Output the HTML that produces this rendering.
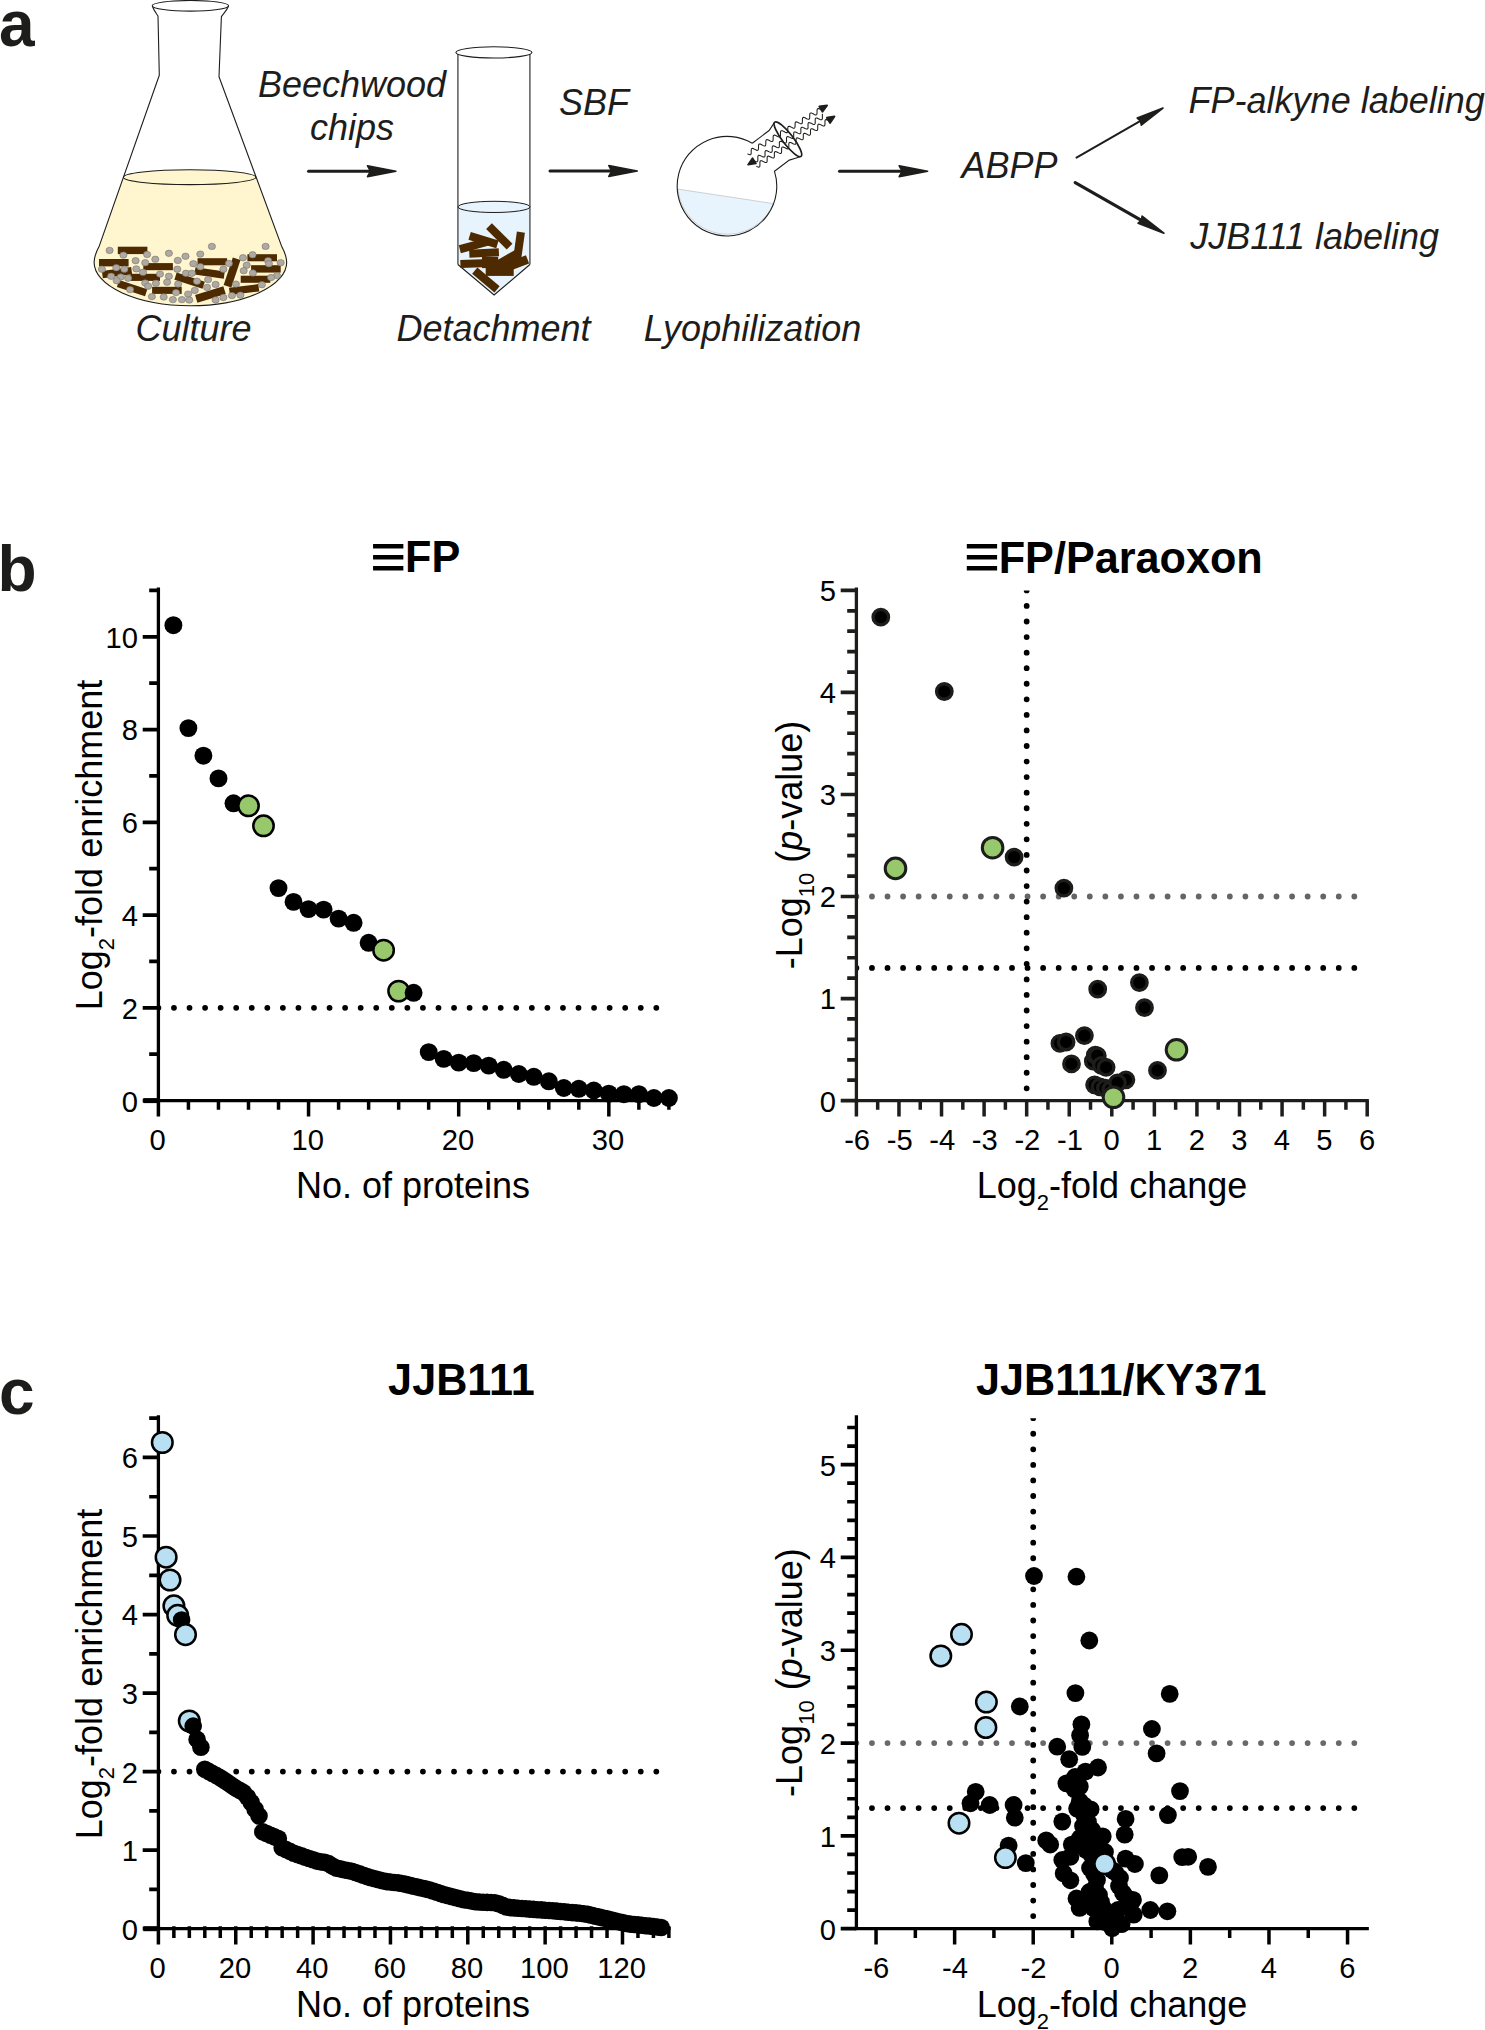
<!DOCTYPE html>
<html lang="en"><head><meta charset="utf-8"><title>Figure</title>
<style>html,body{margin:0;padding:0;background:#fff;}body{width:1485px;height:2030px;}svg{display:block;}text{white-space:pre;}</style>
</head><body>
<svg width="1485" height="2030" viewBox="0 0 1485 2030">
<rect width="1485" height="2030" fill="#fff"/>
<text x="-1.0" y="45.5" font-family='"Liberation Sans", sans-serif' font-weight="bold" font-size="64" fill="#1d1d1b">a</text>
<text x="-2.6" y="591.0" font-family='"Liberation Sans", sans-serif' font-weight="bold" font-size="64" fill="#1d1d1b">b</text>
<text x="-1.0" y="1414.0" font-family='"Liberation Sans", sans-serif' font-weight="bold" font-size="64" fill="#1d1d1b">c</text>
<g id="panel-a">
<g id="flask" stroke="#1d1d1b" stroke-width="1.1" fill="none" stroke-linejoin="round">
<path d="M123.4,177.2 L99.3,245.9 Q94.3,255 94.1,262.2 A96.3,43.5 0 0 0 286.7,262.2 Q286.5,255 281.5,245.9 L255.8,177.2 Z" fill="#fff6d0" stroke="none"/>
<ellipse cx="189.6" cy="177.2" rx="66.2" ry="7.4" fill="#fff6d0"/>
<path d="M152.3,6 C153.5,10 156,13 158,16 L159.3,75.3 L99.3,245.9 Q94.3,255 94.1,262.2 A96.3,43.5 0 0 0 286.7,262.2 Q286.5,255 281.5,245.9 L219,76.7 L221.4,16.6 C224,13 227,10 228.6,6"/>
<ellipse cx="190.4" cy="5.8" rx="38.2" ry="5.3" fill="#fff"/>
</g>
<g id="chips-a" fill="#4d2a00">
<rect x="117.8" y="246.7" width="29.6" height="7.4" transform="rotate(0 132.6 250.4)"/>
<rect x="99.0" y="259.0" width="29.6" height="7.4" transform="rotate(0 113.8 262.7)"/>
<rect x="102.2" y="268.9" width="29.6" height="7.4" transform="rotate(-8 117.0 272.6)"/>
<rect x="143.3" y="263.1" width="29.6" height="7.1" transform="rotate(0 158.1 266.7)"/>
<rect x="130.4" y="273.8" width="29.6" height="7.1" transform="rotate(0 145.2 277.3)"/>
<rect x="117.3" y="284.4" width="29.6" height="7.4" transform="rotate(18 132.1 288.1)"/>
<rect x="152.1" y="286.8" width="29.6" height="7.1" transform="rotate(0 167.0 290.4)"/>
<rect x="174.8" y="277.0" width="29.6" height="7.4" transform="rotate(18 189.6 280.7)"/>
<rect x="197.5" y="258.2" width="29.6" height="7.1" transform="rotate(0 212.3 261.8)"/>
<rect x="194.8" y="269.3" width="29.6" height="7.4" transform="rotate(8 209.6 273.0)"/>
<rect x="217.7" y="268.5" width="28.9" height="8.1" transform="rotate(-71.5 232.1 272.6)"/>
<rect x="195.6" y="290.4" width="29.6" height="8.1" transform="rotate(-17 210.4 294.5)"/>
<rect x="229.3" y="285.9" width="29.6" height="7.4" transform="rotate(-7 244.1 289.6)"/>
<rect x="240.7" y="275.7" width="29.6" height="7.1" transform="rotate(0 255.6 279.3)"/>
<rect x="251.1" y="265.2" width="29.6" height="7.4" transform="rotate(0 265.9 268.9)"/>
<rect x="247.4" y="254.2" width="29.6" height="7.1" transform="rotate(0 262.2 257.8)"/>
</g>
<g id="cells-a" fill="#aeaaa3" stroke="#77746d" stroke-width="0.6">
<ellipse cx="109.6" cy="250.4" rx="3.6" ry="3.2"/>
<ellipse cx="123.4" cy="255.1" rx="3.6" ry="3.2"/>
<ellipse cx="147.1" cy="254.5" rx="3.6" ry="3.2"/>
<ellipse cx="168.9" cy="253.3" rx="3.6" ry="3.2"/>
<ellipse cx="185.5" cy="256.3" rx="3.6" ry="3.2"/>
<ellipse cx="200.3" cy="254.1" rx="3.6" ry="3.2"/>
<ellipse cx="211.9" cy="246.4" rx="3.6" ry="3.2"/>
<ellipse cx="265.6" cy="246.4" rx="3.6" ry="3.2"/>
<ellipse cx="252.6" cy="254.8" rx="3.6" ry="3.2"/>
<ellipse cx="243.0" cy="257.8" rx="3.6" ry="3.2"/>
<ellipse cx="268.1" cy="260.7" rx="3.6" ry="3.2"/>
<ellipse cx="280.7" cy="262.7" rx="3.6" ry="3.2"/>
<ellipse cx="268.9" cy="263.7" rx="3.6" ry="3.2"/>
<ellipse cx="135.6" cy="260.7" rx="3.6" ry="3.2"/>
<ellipse cx="145.2" cy="262.7" rx="3.6" ry="3.2"/>
<ellipse cx="155.3" cy="259.3" rx="3.6" ry="3.2"/>
<ellipse cx="177.8" cy="260.4" rx="3.6" ry="3.2"/>
<ellipse cx="193.3" cy="263.7" rx="3.6" ry="3.2"/>
<ellipse cx="200.3" cy="266.7" rx="3.6" ry="3.2"/>
<ellipse cx="228.9" cy="263.4" rx="3.6" ry="3.2"/>
<ellipse cx="246.7" cy="265.2" rx="3.6" ry="3.2"/>
<ellipse cx="101.9" cy="269.2" rx="3.6" ry="3.2"/>
<ellipse cx="116.3" cy="267.7" rx="3.6" ry="3.2"/>
<ellipse cx="124.4" cy="269.2" rx="3.6" ry="3.2"/>
<ellipse cx="136.3" cy="268.9" rx="3.6" ry="3.2"/>
<ellipse cx="143.0" cy="272.3" rx="3.6" ry="3.2"/>
<ellipse cx="160.0" cy="274.1" rx="3.6" ry="3.2"/>
<ellipse cx="168.9" cy="276.3" rx="3.6" ry="3.2"/>
<ellipse cx="177.3" cy="269.2" rx="3.6" ry="3.2"/>
<ellipse cx="185.9" cy="273.3" rx="3.6" ry="3.2"/>
<ellipse cx="191.9" cy="273.3" rx="3.6" ry="3.2"/>
<ellipse cx="223.4" cy="269.2" rx="3.6" ry="3.2"/>
<ellipse cx="243.7" cy="270.7" rx="3.6" ry="3.2"/>
<ellipse cx="252.9" cy="273.0" rx="3.6" ry="3.2"/>
<ellipse cx="277.0" cy="275.6" rx="3.6" ry="3.2"/>
<ellipse cx="271.1" cy="277.5" rx="3.6" ry="3.2"/>
<ellipse cx="111.1" cy="276.3" rx="3.6" ry="3.2"/>
<ellipse cx="120.7" cy="277.0" rx="3.6" ry="3.2"/>
<ellipse cx="128.1" cy="278.2" rx="3.6" ry="3.2"/>
<ellipse cx="116.7" cy="280.7" rx="3.6" ry="3.2"/>
<ellipse cx="145.2" cy="283.0" rx="3.6" ry="3.2"/>
<ellipse cx="155.9" cy="283.3" rx="3.6" ry="3.2"/>
<ellipse cx="167.1" cy="282.2" rx="3.6" ry="3.2"/>
<ellipse cx="178.1" cy="284.1" rx="3.6" ry="3.2"/>
<ellipse cx="148.1" cy="286.2" rx="3.6" ry="3.2"/>
<ellipse cx="197.0" cy="281.2" rx="3.6" ry="3.2"/>
<ellipse cx="208.1" cy="279.6" rx="3.6" ry="3.2"/>
<ellipse cx="215.6" cy="284.4" rx="3.6" ry="3.2"/>
<ellipse cx="207.1" cy="287.4" rx="3.6" ry="3.2"/>
<ellipse cx="235.9" cy="284.1" rx="3.6" ry="3.2"/>
<ellipse cx="261.9" cy="284.7" rx="3.6" ry="3.2"/>
<ellipse cx="130.1" cy="289.6" rx="3.6" ry="3.2"/>
<ellipse cx="194.8" cy="290.4" rx="3.6" ry="3.2"/>
<ellipse cx="176.0" cy="292.6" rx="3.6" ry="3.2"/>
<ellipse cx="188.1" cy="294.1" rx="3.6" ry="3.2"/>
<ellipse cx="151.9" cy="296.6" rx="3.6" ry="3.2"/>
<ellipse cx="163.7" cy="297.0" rx="3.6" ry="3.2"/>
<ellipse cx="172.9" cy="299.6" rx="3.6" ry="3.2"/>
<ellipse cx="181.9" cy="299.6" rx="3.6" ry="3.2"/>
<ellipse cx="189.3" cy="300.0" rx="3.6" ry="3.2"/>
<ellipse cx="215.6" cy="300.0" rx="3.6" ry="3.2"/>
<ellipse cx="223.4" cy="297.5" rx="3.6" ry="3.2"/>
<ellipse cx="231.9" cy="295.6" rx="3.6" ry="3.2"/>
<ellipse cx="240.4" cy="295.1" rx="3.6" ry="3.2"/>
</g>
<g id="tube" fill="none">
<path d="M458.1,206.9 L458.1,264.5 L494.1,295 L529.9,264.5 L529.9,206.9 Z" fill="#e7f4fd"/>
<path d="M457.9,52.4 V264.5 M529.9,52.4 V264.5" stroke="#666" stroke-width="1.6"/>
<path d="M457.9,264.5 L494.1,295 L529.9,264.5" stroke="#1d1d1b" stroke-width="1.1"/>
<ellipse cx="493.9" cy="52.4" rx="38.0" ry="5.6" fill="#fff" stroke="#1d1d1b" stroke-width="1.1"/>
<ellipse cx="494" cy="206.9" rx="36" ry="5.6" fill="#e7f4fd" stroke="#1d1d1b" stroke-width="1"/>
<g fill="#4d2a00">
<rect x="484.7" y="232.2" width="29.1" height="8.1" transform="rotate(45 499.2 236.3)"/>
<rect x="469.0" y="236.0" width="29.1" height="8.1" transform="rotate(17 483.6 240.0)"/>
<rect x="459.3" y="241.4" width="29.1" height="8.1" transform="rotate(-15 473.9 245.4)"/>
<rect x="469.3" y="248.9" width="29.6" height="8.1" transform="rotate(-3 484.1 253.0)"/>
<rect x="460.4" y="259.5" width="29.1" height="8.1" transform="rotate(-2 475.0 263.5)"/>
<rect x="504.9" y="241.9" width="28.0" height="8.1" transform="rotate(98 518.9 246.0)"/>
<rect x="497.3" y="260.6" width="31.3" height="8.8" transform="rotate(-21 512.9 265.0)"/>
<rect x="493.3" y="255.5" width="26.9" height="9.7" transform="rotate(-30 506.7 260.3)"/>
<rect x="485.7" y="267.8" width="28.0" height="8.1" transform="rotate(0 499.7 271.8)"/>
<rect x="471.4" y="275.9" width="29.1" height="8.1" transform="rotate(40 485.9 279.9)"/>
<rect x="482.0" y="256.8" width="16.2" height="11.3" transform="rotate(0 490.0 262.5)"/>
</g></g>
<g id="rflask" fill="none" stroke="#1d1d1b" stroke-width="1.1">
<path d="M677.9,189.1 L773.5,203.6 A49.8,49.8 0 0 1 677.9,189.1 Z" fill="#e7f4fd" stroke="#b5b5b5" stroke-width="0.6"/>
<path d="M774.5,122.4 L769.1,130.5 Q760.5,136.9 752.3,143.3 M752.3,143.3 A49.8,49.8 0 1 0 774.5,171.3 L789.3,160.1 Q794.7,158.6 800.1,156.8"/>
<ellipse cx="787.9" cy="139.3" rx="21.6" ry="5.3" transform="rotate(52.5 787.9 139.3)" stroke-width="1.7"/>
<g stroke-width="1.05">
<path d="M747.54,153.80 L748.40,154.25 L749.20,154.61 L749.89,154.78 L750.44,154.72 L750.84,154.40 L751.07,153.82 L751.18,153.03 L751.20,152.10 L751.20,151.12 L751.22,150.18 L751.32,149.39 L751.55,148.80 L751.93,148.46 L752.48,148.39 L753.17,148.56 L753.96,148.91 L754.82,149.36 L755.68,149.81 L756.49,150.17 L757.18,150.35 L757.74,150.30 L758.14,149.99 L758.38,149.42 L758.49,148.64 L758.52,147.71 L758.51,146.73 L758.53,145.79 L758.63,144.99 L758.85,144.39 L759.23,144.04 L759.77,143.96 L760.45,144.12 L761.25,144.47 L762.10,144.91 L762.96,145.36 L763.77,145.73 L764.47,145.92 L765.04,145.88 L765.44,145.58 L765.69,145.02 L765.80,144.24 L765.83,143.32 L765.82,142.34 L765.84,141.40 L765.94,140.58 L766.15,139.98 L766.53,139.62 L767.06,139.53 L767.74,139.69 L768.53,140.02 L769.38,140.47 L770.24,140.92 L771.05,141.29 L771.76,141.49 L772.33,141.46 L772.74,141.17 L772.99,140.61 L773.11,139.85 L773.14,138.93 L773.14,137.95 L773.15,137.00 L773.24,136.18 L773.46,135.57 L773.82,135.20 L774.35,135.10 L775.02,135.25 L775.81,135.58 L776.66,136.02 L777.53,136.47 L778.34,136.85 L779.05,137.06 L779.63,137.04 L780.04,136.75 L780.30,136.21 L780.42,135.45 L780.46,134.54 L780.45,133.56 L780.46,132.61 L780.55,131.78 L780.76,131.16 L781.12,130.79 L781.64,130.67 L782.31,130.81 L783.09,131.13 L783.94,131.57 L784.81,132.03 L785.62,132.41 L786.34,132.62 L786.92,132.61 L787.34,132.34 L787.61,131.81 L787.74,131.05 L787.77,130.14 L787.77,129.17 L787.78,128.21 L787.86,127.38 L788.06,126.75 L788.42,126.37 L788.93,126.25 L789.59,126.37 L790.37,126.69 L791.22,127.13 L792.09,127.58 L792.91,127.97 L793.63,128.19 L794.21,128.19 L794.64,127.93 L794.91,127.41 L795.05,126.66 L795.08,125.75 L795.08,124.77 L795.09,123.82 L795.17,122.98 L795.37,122.34 L795.71,121.95 L796.22,121.82 L796.88,121.93 L797.65,122.25 L798.50,122.68 L799.37,123.14 L800.19,123.53 L800.92,123.76 L801.51,123.77 L801.94,123.51 L802.22,123.00 L802.36,122.26 L802.40,121.36 L802.39,120.38 L802.40,119.43 L802.48,118.58 L802.67,117.93 L803.01,117.53 L803.51,117.39 L804.16,117.50 L804.94,117.80 L805.78,118.23 L806.65,118.69 L807.47,119.09 L808.20,119.32 L808.80,119.34 L809.24,119.10 L809.52,118.60 L809.67,117.87 L809.71,116.97 L809.71,115.99 L809.71,115.03 L809.79,114.19 L809.97,113.53 L810.31,113.11 L810.80,112.96 L811.45,113.06 L812.22,113.36 L813.06,113.79 L813.93,114.25 L814.76,114.64 L815.49,114.89 L816.09,114.92 L816.54,114.69 L816.83,114.19 L816.98,113.47 L817.02,112.58 L817.02,111.60 L817.03,110.64 L817.09,109.79 L817.28,109.12 L817.61,108.69 L818.10,108.53 L818.74,108.62 L819.50,108.92 L820.34,109.34 L821.21,109.80"/>
<path d="M754.28,160.81 L755.15,161.23 L755.96,161.56 L756.66,161.71 L757.21,161.63 L757.59,161.30 L757.80,160.71 L757.89,159.92 L757.88,158.99 L757.84,158.01 L757.83,157.08 L757.91,156.28 L758.12,155.68 L758.49,155.33 L759.03,155.24 L759.72,155.38 L760.53,155.71 L761.40,156.12 L762.27,156.55 L763.09,156.88 L763.79,157.05 L764.35,156.98 L764.74,156.66 L764.96,156.09 L765.05,155.30 L765.05,154.38 L765.01,153.40 L765.00,152.46 L765.07,151.65 L765.27,151.04 L765.64,150.68 L766.17,150.58 L766.85,150.71 L767.65,151.02 L768.52,151.44 L769.40,151.87 L770.22,152.21 L770.93,152.38 L771.49,152.33 L771.89,152.02 L772.12,151.46 L772.22,150.68 L772.22,149.76 L772.18,148.78 L772.16,147.84 L772.23,147.02 L772.43,146.40 L772.78,146.03 L773.30,145.91 L773.98,146.04 L774.78,146.34 L775.65,146.76 L776.52,147.18 L777.35,147.53 L778.06,147.72 L778.64,147.67 L779.04,147.38 L779.28,146.83 L779.38,146.06 L779.39,145.15 L779.35,144.17 L779.33,143.22 L779.39,142.40 L779.58,141.77 L779.93,141.38 L780.44,141.25 L781.11,141.36 L781.90,141.66 L782.77,142.07 L783.65,142.50 L784.47,142.86 L785.20,143.05 L785.78,143.02 L786.19,142.74 L786.44,142.20 L786.55,141.44 L786.55,140.53 L786.52,139.56 L786.50,138.61 L786.55,137.77 L786.73,137.13 L787.07,136.73 L787.58,136.59 L788.24,136.69 L789.03,136.98 L789.89,137.39 L790.77,137.82 L791.60,138.18 L792.33,138.38 L792.92,138.37 L793.34,138.10 L793.60,137.57 L793.71,136.82 L793.72,135.92 L793.69,134.94 L793.66,133.99 L793.71,133.15 L793.89,132.50 L794.22,132.08 L794.72,131.93 L795.37,132.02 L796.16,132.30 L797.02,132.71 L797.89,133.14 L798.73,133.50 L799.47,133.71 L800.06,133.71 L800.49,133.45 L800.76,132.94 L800.88,132.20 L800.89,131.31 L800.85,130.33 L800.83,129.37 L800.88,128.52 L801.04,127.86 L801.36,127.44 L801.85,127.27 L802.50,127.35 L803.28,127.62 L804.14,128.02 L805.02,128.45 L805.86,128.82 L806.60,129.05 L807.20,129.05 L807.64,128.81 L807.91,128.31 L808.04,127.58 L808.06,126.69 L808.02,125.72 L808.00,124.76 L808.04,123.90 L808.20,123.23 L808.51,122.79 L808.99,122.61 L809.64,122.68 L810.41,122.94 L811.26,123.34 L812.14,123.77 L812.98,124.15 L813.73,124.38 L814.34,124.40 L814.79,124.17 L815.07,123.68 L815.20,122.96 L815.23,122.08 L815.19,121.10 L815.16,120.14 L815.20,119.28 L815.35,118.59 L815.66,118.14 L816.13,117.95 L816.77,118.01 L817.53,118.26 L818.39,118.66 L819.27,119.09 L820.11,119.47 L820.87,119.71 L821.48,119.74 L821.94,119.52 L822.23,119.05 L822.37,118.34 L822.39,117.46 L822.36,116.49 L822.33,115.52 L822.36,114.65 L822.51,113.96"/>
<path d="M756.30,166.20 L757.16,166.63 L757.97,166.97 L758.67,167.13 L759.21,167.06 L759.60,166.73 L759.82,166.15 L759.92,165.36 L759.92,164.43 L759.90,163.45 L759.90,162.51 L759.99,161.71 L760.21,161.12 L760.58,160.78 L761.12,160.69 L761.81,160.84 L762.61,161.17 L763.48,161.60 L764.35,162.04 L765.16,162.39 L765.86,162.56 L766.42,162.50 L766.81,162.19 L767.04,161.62 L767.14,160.84 L767.15,159.91 L767.13,158.93 L767.13,157.99 L767.21,157.19 L767.42,156.58 L767.79,156.22 L768.32,156.12 L769.00,156.26 L769.80,156.59 L770.66,157.01 L771.53,157.45 L772.34,157.80 L773.05,157.99 L773.62,157.95 L774.02,157.64 L774.26,157.09 L774.37,156.32 L774.38,155.40 L774.36,154.42 L774.35,153.48 L774.43,152.66 L774.63,152.04 L774.99,151.67 L775.51,151.56 L776.19,151.68 L776.98,152.00 L777.84,152.42 L778.71,152.86 L779.53,153.22 L780.25,153.42 L780.82,153.39 L781.23,153.10 L781.48,152.56 L781.60,151.80 L781.61,150.88 L781.59,149.91 L781.58,148.96 L781.65,148.13 L781.85,147.50 L782.19,147.11 L782.71,146.99 L783.37,147.11 L784.16,147.41 L785.02,147.83 L785.89,148.27 L786.72,148.64 L787.44,148.85 L788.02,148.83 L788.44,148.56 L788.70,148.03 L788.82,147.28 L788.84,146.37 L788.82,145.39 L788.81,144.44 L788.87,143.60 L789.06,142.96 L789.40,142.56 L789.90,142.42 L790.56,142.53 L791.35,142.83 L792.20,143.24 L793.07,143.68 L793.90,144.06 L794.63,144.27 L795.22,144.27 L795.65,144.01 L795.92,143.50 L796.05,142.76 L796.07,141.86 L796.05,140.88 L796.03,139.92 L796.09,139.08 L796.27,138.42 L796.61,138.01 L797.10,137.86 L797.75,137.95 L798.53,138.24 L799.38,138.65 L800.26,139.09 L801.09,139.47 L801.82,139.70 L802.42,139.71 L802.86,139.47 L803.14,138.96 L803.27,138.23 L803.30,137.34 L803.28,136.37 L803.26,135.41 L803.32,134.55 L803.49,133.89 L803.81,133.46 L804.30,133.29 L804.94,133.37 L805.71,133.65 L806.56,134.06 L807.44,134.50 L808.27,134.89 L809.02,135.13 L809.62,135.15 L810.07,134.92 L810.35,134.43 L810.49,133.71 L810.53,132.82 L810.51,131.85 L810.49,130.89 L810.54,130.03 L810.70,129.35 L811.02,128.91 L811.50,128.73 L812.13,128.79 L812.90,129.07 L813.74,129.47 L814.62,129.91 L815.46,130.30 L816.21,130.55 L816.82,130.59 L817.28,130.37 L817.57,129.90 L817.72,129.19 L817.76,128.31 L817.74,127.34 L817.72,126.37 L817.76,125.50 L817.92,124.81 L818.23,124.36 L818.69,124.16 L819.32,124.22 L820.08,124.48 L820.93,124.88 L821.80,125.32 L822.64,125.72 L823.40,125.98 L824.02,126.03 L824.49,125.82 L824.79,125.36 L824.94,124.66 L824.98,123.79 L824.97,122.83 L824.95,121.86 L824.99,120.98 L825.14,120.28 L825.43,119.81 L825.89,119.60 L826.51,119.64 L827.27,119.90 L828.11,120.29"/>
</g>
<path d="M827.1,105.4 L822.5,111.8 L819.3,106.5 Z" fill="#1d1d1b" stroke="#1d1d1b" stroke-width="1.8" stroke-linejoin="round"/>
<path d="M834.5,116.5 L830.1,123.0 L826.8,117.7 Z" fill="#1d1d1b" stroke="#1d1d1b" stroke-width="1.8" stroke-linejoin="round"/>
<path d="M748.1,164.7 L752.5,158.2 L755.9,163.4 Z" fill="#1d1d1b" stroke="#1d1d1b" stroke-width="1.8" stroke-linejoin="round"/>
</g>
<g id="arrows">
<path d="M308.5,171.2 L370.5,171.2" stroke="#1d1d1b" stroke-width="3.0" stroke-linecap="round" fill="none"/>
<path d="M395.9,171.2 L367.5,176.6 L370.5,171.2 L367.5,165.8 Z" fill="#1d1d1b" stroke="#1d1d1b" stroke-width="1.6" stroke-linejoin="round"/>
<path d="M550.0,171.0 L611.8,171.0" stroke="#1d1d1b" stroke-width="3.0" stroke-linecap="round" fill="none"/>
<path d="M637.2,171.0 L608.8,176.4 L611.8,171.0 L608.8,165.6 Z" fill="#1d1d1b" stroke="#1d1d1b" stroke-width="1.6" stroke-linejoin="round"/>
<path d="M839.5,171.2 L902.2,171.2" stroke="#1d1d1b" stroke-width="3.0" stroke-linecap="round" fill="none"/>
<path d="M927.6,171.2 L899.2,176.6 L902.2,171.2 L899.2,165.8 Z" fill="#1d1d1b" stroke="#1d1d1b" stroke-width="1.6" stroke-linejoin="round"/>
<path d="M1076.5,157.6 L1140.5,120.9" stroke="#1d1d1b" stroke-width="2.0" stroke-linecap="round" fill="none"/>
<path d="M1163.0,108.0 L1141.3,125.2 L1140.5,120.9 L1137.2,118.1 Z" fill="#1d1d1b" stroke="#1d1d1b" stroke-width="1.6" stroke-linejoin="round"/>
<path d="M1075.2,182.6 L1141.4,220.4" stroke="#1d1d1b" stroke-width="3.2" stroke-linecap="round" fill="none"/>
<path d="M1163.9,233.2 L1138.1,223.2 L1141.4,220.4 L1142.1,216.1 Z" fill="#1d1d1b" stroke="#1d1d1b" stroke-width="1.6" stroke-linejoin="round"/>
</g>
<g id="text-a" font-family='"Liberation Sans", sans-serif' font-style="italic" font-size="36" fill="#1d1d1b">
<text x="352.0" y="97.4" text-anchor="middle">Beechwood</text>
<text x="352.0" y="139.6" text-anchor="middle">chips</text>
<text x="594.0" y="114.8" text-anchor="middle">SBF</text>
<text x="193.5" y="340.5" text-anchor="middle">Culture</text>
<text x="493.5" y="340.5" text-anchor="middle">Detachment</text>
<text x="752.5" y="340.5" text-anchor="middle">Lyophilization</text>
<text x="1009.5" y="177.5" text-anchor="middle">ABPP</text>
<text x="1188.6" y="113.0" text-anchor="start">FP-alkyne labeling</text>
<text x="1190.3" y="248.7" text-anchor="start">JJB111 labeling</text>
</g>
</g>
<g id="chart-b1">
<defs><clipPath id="cb1"><rect x="158.40" y="590.40" width="530.50" height="530.20"/></clipPath></defs>
<g clip-path="url(#cb1)"><path d="M158.40,1007.84 H656.42" stroke="#000" stroke-width="5.8" stroke-linecap="round" stroke-dasharray="0 15.56" fill="none"/></g>
<g stroke="#000" stroke-width="3.30" fill="none">
<path d="M158.40,587.50 V1102.25 M156.75,1100.60 H670.55"/>
<path d="M158.40,1100.60 v15.80 M308.55,1100.60 v15.80 M458.69,1100.60 v15.80 M608.84,1100.60 v15.80 M188.43,1100.60 v9.20 M218.46,1100.60 v9.20 M248.49,1100.60 v9.20 M278.52,1100.60 v9.20 M338.58,1100.60 v9.20 M368.61,1100.60 v9.20 M398.64,1100.60 v9.20 M428.66,1100.60 v9.20 M488.72,1100.60 v9.20 M518.75,1100.60 v9.20 M548.78,1100.60 v9.20 M578.81,1100.60 v9.20 M638.87,1100.60 v9.20 M668.90,1100.60 v9.20" stroke-width="3.5"/>
<path d="M158.40,1100.60 h-15.70 M158.40,1007.84 h-15.70 M158.40,915.07 h-15.70 M158.40,822.31 h-15.70 M158.40,729.55 h-15.70 M158.40,636.78 h-15.70 M158.40,1054.22 h-9.20 M158.40,961.45 h-9.20 M158.40,868.69 h-9.20 M158.40,775.93 h-9.20 M158.40,683.16 h-9.20 M158.40,590.40 h-9.20" stroke-width="3.7"/>
<path d="M157.40,1100.60 h-14.00" stroke-width="5"/>
</g>
<g font-family='"Liberation Sans", sans-serif' font-size="29.17" fill="#000">
<text transform="translate(157.60 1150.20) scale(1 1.040)" text-anchor="middle">0</text>
<text transform="translate(307.75 1150.20) scale(1 1.040)" text-anchor="middle">10</text>
<text transform="translate(457.89 1150.20) scale(1 1.040)" text-anchor="middle">20</text>
<text transform="translate(608.04 1150.20) scale(1 1.040)" text-anchor="middle">30</text>
<text transform="translate(138.00 1111.50) scale(1 1.040)" text-anchor="end">0</text>
<text transform="translate(138.00 1018.74) scale(1 1.040)" text-anchor="end">2</text>
<text transform="translate(138.00 925.97) scale(1 1.040)" text-anchor="end">4</text>
<text transform="translate(138.00 833.21) scale(1 1.040)" text-anchor="end">6</text>
<text transform="translate(138.00 740.45) scale(1 1.040)" text-anchor="end">8</text>
<text transform="translate(138.00 647.68) scale(1 1.040)" text-anchor="end">10</text>
</g>
<circle cx="173.4" cy="625.2" r="8.95" fill="#000"/>
<circle cx="188.4" cy="728.1" r="8.95" fill="#000"/>
<circle cx="203.4" cy="755.7" r="8.95" fill="#000"/>
<circle cx="218.5" cy="778.4" r="8.95" fill="#000"/>
<circle cx="233.5" cy="803.3" r="8.95" fill="#000"/>
<circle cx="248.5" cy="805.8" r="10.20" fill="#97c86c" stroke="#000" stroke-width="2.5"/>
<circle cx="263.5" cy="825.8" r="10.20" fill="#97c86c" stroke="#000" stroke-width="2.5"/>
<circle cx="278.5" cy="888.1" r="8.95" fill="#000"/>
<circle cx="293.5" cy="901.9" r="8.95" fill="#000"/>
<circle cx="308.5" cy="909.1" r="8.95" fill="#000"/>
<circle cx="323.6" cy="909.6" r="8.95" fill="#000"/>
<circle cx="338.6" cy="918.6" r="8.95" fill="#000"/>
<circle cx="353.6" cy="922.8" r="8.95" fill="#000"/>
<circle cx="368.6" cy="942.8" r="8.95" fill="#000"/>
<circle cx="383.6" cy="950.2" r="10.20" fill="#97c86c" stroke="#000" stroke-width="2.5"/>
<circle cx="398.6" cy="991.1" r="10.20" fill="#97c86c" stroke="#000" stroke-width="2.5"/>
<circle cx="413.6" cy="992.8" r="8.95" fill="#000"/>
<circle cx="428.7" cy="1052.1" r="8.95" fill="#000"/>
<circle cx="443.7" cy="1058.9" r="8.95" fill="#000"/>
<circle cx="458.7" cy="1062.6" r="8.95" fill="#000"/>
<circle cx="473.7" cy="1063.1" r="8.95" fill="#000"/>
<circle cx="488.7" cy="1065.6" r="8.95" fill="#000"/>
<circle cx="503.7" cy="1069.8" r="8.95" fill="#000"/>
<circle cx="518.8" cy="1074.0" r="8.95" fill="#000"/>
<circle cx="533.8" cy="1076.8" r="8.95" fill="#000"/>
<circle cx="548.8" cy="1081.3" r="8.95" fill="#000"/>
<circle cx="563.8" cy="1088.0" r="8.95" fill="#000"/>
<circle cx="578.8" cy="1088.8" r="8.95" fill="#000"/>
<circle cx="593.8" cy="1090.5" r="8.95" fill="#000"/>
<circle cx="608.8" cy="1093.7" r="8.95" fill="#000"/>
<circle cx="623.9" cy="1094.2" r="8.95" fill="#000"/>
<circle cx="638.9" cy="1094.2" r="8.95" fill="#000"/>
<circle cx="653.9" cy="1098.0" r="8.95" fill="#000"/>
<circle cx="668.9" cy="1098.0" r="8.95" fill="#000"/>
<text transform="translate(405.00 572.40) scale(0.991 1)" font-family='"Liberation Sans", sans-serif' font-weight="bold" font-size="43.6" fill="#000"><tspan font-size="63.0" x="-35.38" y="5.70">≡</tspan><tspan x="0" y="0">FP</tspan></text>
<text x="413.0" y="1198.4" text-anchor="middle" font-family='"Liberation Sans", sans-serif' font-size="36" fill="#000">No. of proteins</text>
<text transform="translate(102.4 845.0) rotate(-90)" text-anchor="middle" font-family='"Liberation Sans", sans-serif' font-size="36" fill="#000">Log<tspan font-size="22" dy="12">2</tspan><tspan dy="-12">-fold enrichment</tspan></text>
</g>
<g id="chart-b2">
<defs><clipPath id="cb2"><rect x="856.40" y="590.40" width="530.80" height="530.20"/></clipPath></defs>
<g clip-path="url(#cb2)"><path d="M856.40,896.52 H1354.42" stroke="#656565" stroke-width="5.8" stroke-linecap="round" stroke-dasharray="0 15.56" fill="none"/><path d="M856.40,967.95 H1354.42" stroke="#000" stroke-width="5.8" stroke-linecap="round" stroke-dasharray="0 15.56" fill="none"/><path d="M1026.67,590.40 V1088.42" stroke="#000" stroke-width="5.8" stroke-linecap="round" stroke-dasharray="0 15.56" fill="none"/></g>
<g stroke="#1d1d1b" stroke-width="3.30" fill="none">
<path d="M856.40,587.50 V1102.25 M854.75,1100.60 H1368.85"/>
<path d="M856.40,1100.60 v15.80 M898.97,1100.60 v15.80 M941.53,1100.60 v15.80 M984.10,1100.60 v15.80 M1026.67,1100.60 v15.80 M1069.23,1100.60 v15.80 M1111.80,1100.60 v15.80 M1154.37,1100.60 v15.80 M1196.93,1100.60 v15.80 M1239.50,1100.60 v15.80 M1282.07,1100.60 v15.80 M1324.63,1100.60 v15.80 M1367.20,1100.60 v15.80 M877.68,1100.60 v9.20 M920.25,1100.60 v9.20 M962.82,1100.60 v9.20 M1005.38,1100.60 v9.20 M1047.95,1100.60 v9.20 M1090.52,1100.60 v9.20 M1133.08,1100.60 v9.20 M1175.65,1100.60 v9.20 M1218.22,1100.60 v9.20 M1260.78,1100.60 v9.20 M1303.35,1100.60 v9.20 M1345.92,1100.60 v9.20" stroke-width="3.5"/>
<path d="M856.40,1100.60 h-15.70 M856.40,998.56 h-15.70 M856.40,896.52 h-15.70 M856.40,794.48 h-15.70 M856.40,692.44 h-15.70 M856.40,590.40 h-15.70 M856.40,1080.19 h-9.20 M856.40,1059.78 h-9.20 M856.40,1039.38 h-9.20 M856.40,1018.97 h-9.20 M856.40,978.15 h-9.20 M856.40,957.74 h-9.20 M856.40,937.34 h-9.20 M856.40,916.93 h-9.20 M856.40,876.11 h-9.20 M856.40,855.70 h-9.20 M856.40,835.30 h-9.20 M856.40,814.89 h-9.20 M856.40,774.07 h-9.20 M856.40,753.66 h-9.20 M856.40,733.26 h-9.20 M856.40,712.85 h-9.20 M856.40,672.03 h-9.20 M856.40,651.62 h-9.20 M856.40,631.22 h-9.20 M856.40,610.81 h-9.20" stroke-width="3.7"/>
</g>
<g font-family='"Liberation Sans", sans-serif' font-size="29.17" fill="#000">
<text transform="translate(857.10 1150.20) scale(1 1.040)" text-anchor="middle">-6</text>
<text transform="translate(899.67 1150.20) scale(1 1.040)" text-anchor="middle">-5</text>
<text transform="translate(942.23 1150.20) scale(1 1.040)" text-anchor="middle">-4</text>
<text transform="translate(984.80 1150.20) scale(1 1.040)" text-anchor="middle">-3</text>
<text transform="translate(1027.37 1150.20) scale(1 1.040)" text-anchor="middle">-2</text>
<text transform="translate(1069.93 1150.20) scale(1 1.040)" text-anchor="middle">-1</text>
<text transform="translate(1111.60 1150.20) scale(1 1.040)" text-anchor="middle">0</text>
<text transform="translate(1154.17 1150.20) scale(1 1.040)" text-anchor="middle">1</text>
<text transform="translate(1196.73 1150.20) scale(1 1.040)" text-anchor="middle">2</text>
<text transform="translate(1239.30 1150.20) scale(1 1.040)" text-anchor="middle">3</text>
<text transform="translate(1281.87 1150.20) scale(1 1.040)" text-anchor="middle">4</text>
<text transform="translate(1324.43 1150.20) scale(1 1.040)" text-anchor="middle">5</text>
<text transform="translate(1367.00 1150.20) scale(1 1.040)" text-anchor="middle">6</text>
<text transform="translate(836.00 1111.50) scale(1 1.040)" text-anchor="end">0</text>
<text transform="translate(836.00 1009.46) scale(1 1.040)" text-anchor="end">1</text>
<text transform="translate(836.00 907.42) scale(1 1.040)" text-anchor="end">2</text>
<text transform="translate(836.00 805.38) scale(1 1.040)" text-anchor="end">3</text>
<text transform="translate(836.00 703.34) scale(1 1.040)" text-anchor="end">4</text>
<text transform="translate(836.00 601.30) scale(1 1.040)" text-anchor="end">5</text>
</g>
<circle cx="880.8" cy="617.2" r="7.75" fill="#000" stroke="#1d1d1b" stroke-width="3.3"/>
<circle cx="944.3" cy="691.5" r="7.75" fill="#000" stroke="#1d1d1b" stroke-width="3.3"/>
<circle cx="1014.1" cy="857.1" r="7.75" fill="#000" stroke="#1d1d1b" stroke-width="3.3"/>
<circle cx="1063.9" cy="888.1" r="7.75" fill="#000" stroke="#1d1d1b" stroke-width="3.3"/>
<circle cx="1097.7" cy="989.2" r="7.75" fill="#000" stroke="#1d1d1b" stroke-width="3.3"/>
<circle cx="1139.4" cy="982.6" r="7.75" fill="#000" stroke="#1d1d1b" stroke-width="3.3"/>
<circle cx="1144.5" cy="1007.7" r="7.75" fill="#000" stroke="#1d1d1b" stroke-width="3.3"/>
<circle cx="1059.9" cy="1043.4" r="7.75" fill="#000" stroke="#1d1d1b" stroke-width="3.3"/>
<circle cx="1066.1" cy="1042.0" r="7.75" fill="#000" stroke="#1d1d1b" stroke-width="3.3"/>
<circle cx="1084.4" cy="1035.6" r="7.75" fill="#000" stroke="#1d1d1b" stroke-width="3.3"/>
<circle cx="1071.5" cy="1063.9" r="7.75" fill="#000" stroke="#1d1d1b" stroke-width="3.3"/>
<circle cx="1093.3" cy="1061.2" r="7.75" fill="#000" stroke="#1d1d1b" stroke-width="3.3"/>
<circle cx="1095.3" cy="1055.2" r="7.75" fill="#000" stroke="#1d1d1b" stroke-width="3.3"/>
<circle cx="1097.3" cy="1055.8" r="7.75" fill="#000" stroke="#1d1d1b" stroke-width="3.3"/>
<circle cx="1101.4" cy="1065.3" r="7.75" fill="#000" stroke="#1d1d1b" stroke-width="3.3"/>
<circle cx="1106.1" cy="1067.3" r="7.75" fill="#000" stroke="#1d1d1b" stroke-width="3.3"/>
<circle cx="1094.6" cy="1084.8" r="7.75" fill="#000" stroke="#1d1d1b" stroke-width="3.3"/>
<circle cx="1100.0" cy="1086.8" r="7.75" fill="#000" stroke="#1d1d1b" stroke-width="3.3"/>
<circle cx="1105.4" cy="1088.1" r="7.75" fill="#000" stroke="#1d1d1b" stroke-width="3.3"/>
<circle cx="1110.8" cy="1089.5" r="7.75" fill="#000" stroke="#1d1d1b" stroke-width="3.3"/>
<circle cx="1125.9" cy="1079.8" r="7.75" fill="#000" stroke="#1d1d1b" stroke-width="3.3"/>
<circle cx="1117.5" cy="1082.8" r="7.75" fill="#000" stroke="#1d1d1b" stroke-width="3.3"/>
<circle cx="1157.5" cy="1070.4" r="7.75" fill="#000" stroke="#1d1d1b" stroke-width="3.3"/>
<circle cx="992.6" cy="847.7" r="10.30" fill="#97c86c" stroke="#1d1d1b" stroke-width="3.0"/>
<circle cx="895.5" cy="868.4" r="10.30" fill="#97c86c" stroke="#1d1d1b" stroke-width="3.0"/>
<circle cx="1176.5" cy="1049.8" r="10.30" fill="#97c86c" stroke="#1d1d1b" stroke-width="3.0"/>
<circle cx="1113.5" cy="1097.3" r="10.30" fill="#97c86c" stroke="#1d1d1b" stroke-width="3.0"/>
<text transform="translate(998.70 572.50) scale(0.991 1)" font-family='"Liberation Sans", sans-serif' font-weight="bold" font-size="43.6" fill="#000"><tspan font-size="63.0" x="-35.38" y="5.60">≡</tspan><tspan x="0" y="0">FP/Paraoxon</tspan></text>
<text x="1112.0" y="1198.4" text-anchor="middle" font-family='"Liberation Sans", sans-serif' font-size="36" fill="#000">Log<tspan font-size="22" dy="12">2</tspan><tspan dy="-12">-fold change</tspan></text>
<text transform="translate(802.0 845.0) rotate(-90)" text-anchor="middle" font-family='"Liberation Sans", sans-serif' font-size="36" fill="#000">-Log<tspan font-size="22" dy="12">10</tspan><tspan dy="-12"> (<tspan font-style="italic">p</tspan>-value)</tspan></text>
</g>
<g id="chart-c1">
<defs><clipPath id="cc1"><rect x="158.40" y="1418.20" width="530.50" height="530.50"/></clipPath></defs>
<g clip-path="url(#cc1)"><path d="M158.40,1771.62 H656.42" stroke="#000" stroke-width="5.8" stroke-linecap="round" stroke-dasharray="0 15.56" fill="none"/></g>
<g stroke="#000" stroke-width="3.30" fill="none">
<path d="M158.40,1415.30 V1930.35 M156.75,1928.70 H670.55"/>
<path d="M158.40,1926.20 v18.30 M235.75,1926.20 v18.30 M313.10,1926.20 v18.30 M390.45,1926.20 v18.30 M467.79,1926.20 v18.30 M545.14,1926.20 v18.30 M622.49,1926.20 v18.30 M173.87,1926.20 v11.70 M189.34,1926.20 v11.70 M204.81,1926.20 v11.70 M220.28,1926.20 v11.70 M251.22,1926.20 v11.70 M266.69,1926.20 v11.70 M282.16,1926.20 v11.70 M297.63,1926.20 v11.70 M328.57,1926.20 v11.70 M344.04,1926.20 v11.70 M359.51,1926.20 v11.70 M374.98,1926.20 v11.70 M405.92,1926.20 v11.70 M421.38,1926.20 v11.70 M436.85,1926.20 v11.70 M452.32,1926.20 v11.70 M483.26,1926.20 v11.70 M498.73,1926.20 v11.70 M514.20,1926.20 v11.70 M529.67,1926.20 v11.70 M560.61,1926.20 v11.70 M576.08,1926.20 v11.70 M591.55,1926.20 v11.70 M607.02,1926.20 v11.70 M637.96,1926.20 v11.70 M653.43,1926.20 v11.70 M668.90,1926.20 v11.70" stroke-width="3.5"/>
<path d="M158.40,1928.70 h-15.70 M158.40,1850.16 h-15.70 M158.40,1771.62 h-15.70 M158.40,1693.08 h-15.70 M158.40,1614.55 h-15.70 M158.40,1536.01 h-15.70 M158.40,1457.47 h-15.70 M158.40,1889.43 h-9.20 M158.40,1810.89 h-9.20 M158.40,1732.35 h-9.20 M158.40,1653.82 h-9.20 M158.40,1575.28 h-9.20 M158.40,1496.74 h-9.20 M158.40,1418.20 h-9.20" stroke-width="3.7"/>
<path d="M157.40,1928.70 h-14.00" stroke-width="5"/>
</g>
<g font-family='"Liberation Sans", sans-serif' font-size="29.17" fill="#000">
<text transform="translate(157.60 1978.30) scale(1 1.040)" text-anchor="middle">0</text>
<text transform="translate(234.95 1978.30) scale(1 1.040)" text-anchor="middle">20</text>
<text transform="translate(312.30 1978.30) scale(1 1.040)" text-anchor="middle">40</text>
<text transform="translate(389.65 1978.30) scale(1 1.040)" text-anchor="middle">60</text>
<text transform="translate(466.99 1978.30) scale(1 1.040)" text-anchor="middle">80</text>
<text transform="translate(544.34 1978.30) scale(1 1.040)" text-anchor="middle">100</text>
<text transform="translate(621.69 1978.30) scale(1 1.040)" text-anchor="middle">120</text>
<text transform="translate(138.00 1939.60) scale(1 1.040)" text-anchor="end">0</text>
<text transform="translate(138.00 1861.06) scale(1 1.040)" text-anchor="end">1</text>
<text transform="translate(138.00 1782.52) scale(1 1.040)" text-anchor="end">2</text>
<text transform="translate(138.00 1703.98) scale(1 1.040)" text-anchor="end">3</text>
<text transform="translate(138.00 1625.45) scale(1 1.040)" text-anchor="end">4</text>
<text transform="translate(138.00 1546.91) scale(1 1.040)" text-anchor="end">5</text>
<text transform="translate(138.00 1468.37) scale(1 1.040)" text-anchor="end">6</text>
</g>
<circle cx="162.3" cy="1442.5" r="10.30" fill="#b9e0f2" stroke="#000" stroke-width="2.5"/>
<circle cx="166.1" cy="1557.2" r="10.30" fill="#b9e0f2" stroke="#000" stroke-width="2.5"/>
<circle cx="170.0" cy="1580.0" r="10.30" fill="#b9e0f2" stroke="#000" stroke-width="2.5"/>
<circle cx="173.9" cy="1605.9" r="10.30" fill="#b9e0f2" stroke="#000" stroke-width="2.5"/>
<circle cx="177.7" cy="1615.3" r="10.30" fill="#b9e0f2" stroke="#000" stroke-width="2.5"/>
<circle cx="181.6" cy="1620.0" r="8.80" fill="#000"/>
<circle cx="185.5" cy="1634.6" r="10.30" fill="#b9e0f2" stroke="#000" stroke-width="2.5"/>
<circle cx="189.3" cy="1721.0" r="10.30" fill="#b9e0f2" stroke="#000" stroke-width="2.5"/>
<circle cx="193.2" cy="1726.1" r="8.80" fill="#000"/>
<circle cx="197.1" cy="1739.4" r="8.80" fill="#000"/>
<circle cx="200.9" cy="1747.3" r="8.80" fill="#000"/>
<circle cx="204.8" cy="1769.3" r="8.80" fill="#000"/>
<circle cx="208.7" cy="1771.4" r="8.80" fill="#000"/>
<circle cx="212.5" cy="1773.5" r="8.80" fill="#000"/>
<circle cx="216.4" cy="1775.6" r="8.80" fill="#000"/>
<circle cx="220.3" cy="1777.7" r="8.80" fill="#000"/>
<circle cx="224.1" cy="1780.3" r="8.80" fill="#000"/>
<circle cx="228.0" cy="1782.9" r="8.80" fill="#000"/>
<circle cx="231.9" cy="1785.6" r="8.80" fill="#000"/>
<circle cx="235.7" cy="1788.1" r="8.80" fill="#000"/>
<circle cx="239.6" cy="1790.3" r="8.80" fill="#000"/>
<circle cx="243.5" cy="1792.6" r="8.80" fill="#000"/>
<circle cx="247.4" cy="1797.0" r="8.80" fill="#000"/>
<circle cx="251.2" cy="1802.5" r="8.80" fill="#000"/>
<circle cx="255.1" cy="1809.2" r="8.80" fill="#000"/>
<circle cx="259.0" cy="1815.9" r="8.80" fill="#000"/>
<circle cx="262.8" cy="1831.9" r="8.80" fill="#000"/>
<circle cx="266.7" cy="1833.5" r="8.80" fill="#000"/>
<circle cx="270.6" cy="1835.2" r="8.80" fill="#000"/>
<circle cx="274.4" cy="1836.9" r="8.80" fill="#000"/>
<circle cx="278.3" cy="1838.5" r="8.80" fill="#000"/>
<circle cx="282.2" cy="1847.8" r="8.80" fill="#000"/>
<circle cx="286.0" cy="1849.6" r="8.80" fill="#000"/>
<circle cx="289.9" cy="1851.4" r="8.80" fill="#000"/>
<circle cx="293.8" cy="1853.2" r="8.80" fill="#000"/>
<circle cx="297.6" cy="1854.6" r="8.80" fill="#000"/>
<circle cx="301.5" cy="1855.9" r="8.80" fill="#000"/>
<circle cx="305.4" cy="1857.2" r="8.80" fill="#000"/>
<circle cx="309.2" cy="1858.5" r="8.80" fill="#000"/>
<circle cx="313.1" cy="1859.8" r="8.80" fill="#000"/>
<circle cx="317.0" cy="1861.1" r="8.80" fill="#000"/>
<circle cx="320.8" cy="1861.9" r="8.80" fill="#000"/>
<circle cx="324.7" cy="1862.4" r="8.80" fill="#000"/>
<circle cx="328.6" cy="1863.6" r="8.80" fill="#000"/>
<circle cx="332.4" cy="1866.0" r="8.80" fill="#000"/>
<circle cx="336.3" cy="1868.1" r="8.80" fill="#000"/>
<circle cx="340.2" cy="1868.9" r="8.80" fill="#000"/>
<circle cx="344.0" cy="1869.7" r="8.80" fill="#000"/>
<circle cx="347.9" cy="1870.5" r="8.80" fill="#000"/>
<circle cx="351.8" cy="1871.3" r="8.80" fill="#000"/>
<circle cx="355.6" cy="1872.6" r="8.80" fill="#000"/>
<circle cx="359.5" cy="1873.9" r="8.80" fill="#000"/>
<circle cx="363.4" cy="1875.2" r="8.80" fill="#000"/>
<circle cx="367.2" cy="1876.6" r="8.80" fill="#000"/>
<circle cx="371.1" cy="1877.7" r="8.80" fill="#000"/>
<circle cx="375.0" cy="1878.7" r="8.80" fill="#000"/>
<circle cx="378.8" cy="1879.7" r="8.80" fill="#000"/>
<circle cx="382.7" cy="1880.7" r="8.80" fill="#000"/>
<circle cx="386.6" cy="1881.6" r="8.80" fill="#000"/>
<circle cx="390.4" cy="1882.0" r="8.80" fill="#000"/>
<circle cx="394.3" cy="1882.5" r="8.80" fill="#000"/>
<circle cx="398.2" cy="1882.9" r="8.80" fill="#000"/>
<circle cx="402.0" cy="1883.5" r="8.80" fill="#000"/>
<circle cx="405.9" cy="1884.4" r="8.80" fill="#000"/>
<circle cx="409.8" cy="1885.3" r="8.80" fill="#000"/>
<circle cx="413.6" cy="1886.2" r="8.80" fill="#000"/>
<circle cx="417.5" cy="1887.1" r="8.80" fill="#000"/>
<circle cx="421.4" cy="1888.0" r="8.80" fill="#000"/>
<circle cx="425.3" cy="1888.9" r="8.80" fill="#000"/>
<circle cx="429.1" cy="1889.8" r="8.80" fill="#000"/>
<circle cx="433.0" cy="1891.0" r="8.80" fill="#000"/>
<circle cx="436.9" cy="1892.3" r="8.80" fill="#000"/>
<circle cx="440.7" cy="1893.6" r="8.80" fill="#000"/>
<circle cx="444.6" cy="1894.8" r="8.80" fill="#000"/>
<circle cx="448.5" cy="1895.8" r="8.80" fill="#000"/>
<circle cx="452.3" cy="1896.8" r="8.80" fill="#000"/>
<circle cx="456.2" cy="1897.8" r="8.80" fill="#000"/>
<circle cx="460.1" cy="1898.8" r="8.80" fill="#000"/>
<circle cx="463.9" cy="1899.7" r="8.80" fill="#000"/>
<circle cx="467.8" cy="1900.3" r="8.80" fill="#000"/>
<circle cx="471.7" cy="1901.0" r="8.80" fill="#000"/>
<circle cx="475.5" cy="1901.7" r="8.80" fill="#000"/>
<circle cx="479.4" cy="1902.0" r="8.80" fill="#000"/>
<circle cx="483.3" cy="1902.2" r="8.80" fill="#000"/>
<circle cx="487.1" cy="1902.4" r="8.80" fill="#000"/>
<circle cx="491.0" cy="1902.5" r="8.80" fill="#000"/>
<circle cx="494.9" cy="1902.7" r="8.80" fill="#000"/>
<circle cx="498.7" cy="1903.8" r="8.80" fill="#000"/>
<circle cx="502.6" cy="1905.4" r="8.80" fill="#000"/>
<circle cx="506.5" cy="1907.0" r="8.80" fill="#000"/>
<circle cx="510.3" cy="1907.6" r="8.80" fill="#000"/>
<circle cx="514.2" cy="1907.9" r="8.80" fill="#000"/>
<circle cx="518.1" cy="1908.2" r="8.80" fill="#000"/>
<circle cx="521.9" cy="1908.5" r="8.80" fill="#000"/>
<circle cx="525.8" cy="1908.8" r="8.80" fill="#000"/>
<circle cx="529.7" cy="1909.1" r="8.80" fill="#000"/>
<circle cx="533.5" cy="1909.4" r="8.80" fill="#000"/>
<circle cx="537.4" cy="1909.7" r="8.80" fill="#000"/>
<circle cx="541.3" cy="1909.9" r="8.80" fill="#000"/>
<circle cx="545.1" cy="1910.2" r="8.80" fill="#000"/>
<circle cx="549.0" cy="1910.5" r="8.80" fill="#000"/>
<circle cx="552.9" cy="1910.8" r="8.80" fill="#000"/>
<circle cx="556.7" cy="1911.1" r="8.80" fill="#000"/>
<circle cx="560.6" cy="1911.5" r="8.80" fill="#000"/>
<circle cx="564.5" cy="1911.8" r="8.80" fill="#000"/>
<circle cx="568.3" cy="1912.2" r="8.80" fill="#000"/>
<circle cx="572.2" cy="1912.6" r="8.80" fill="#000"/>
<circle cx="576.1" cy="1912.9" r="8.80" fill="#000"/>
<circle cx="579.9" cy="1913.3" r="8.80" fill="#000"/>
<circle cx="583.8" cy="1913.7" r="8.80" fill="#000"/>
<circle cx="587.7" cy="1914.4" r="8.80" fill="#000"/>
<circle cx="591.6" cy="1915.3" r="8.80" fill="#000"/>
<circle cx="595.4" cy="1916.2" r="8.80" fill="#000"/>
<circle cx="599.3" cy="1917.1" r="8.80" fill="#000"/>
<circle cx="603.2" cy="1918.0" r="8.80" fill="#000"/>
<circle cx="607.0" cy="1918.9" r="8.80" fill="#000"/>
<circle cx="610.9" cy="1919.8" r="8.80" fill="#000"/>
<circle cx="614.8" cy="1920.8" r="8.80" fill="#000"/>
<circle cx="618.6" cy="1921.7" r="8.80" fill="#000"/>
<circle cx="622.5" cy="1922.6" r="8.80" fill="#000"/>
<circle cx="626.4" cy="1923.5" r="8.80" fill="#000"/>
<circle cx="630.2" cy="1924.1" r="8.80" fill="#000"/>
<circle cx="634.1" cy="1924.5" r="8.80" fill="#000"/>
<circle cx="638.0" cy="1924.9" r="8.80" fill="#000"/>
<circle cx="641.8" cy="1925.3" r="8.80" fill="#000"/>
<circle cx="645.7" cy="1925.7" r="8.80" fill="#000"/>
<circle cx="649.6" cy="1926.0" r="8.80" fill="#000"/>
<circle cx="653.4" cy="1926.5" r="8.80" fill="#000"/>
<circle cx="657.3" cy="1927.0" r="8.80" fill="#000"/>
<circle cx="661.2" cy="1927.5" r="8.80" fill="#000"/>
<text transform="translate(461.40 1395.00) scale(0.991 1)" text-anchor="middle" font-family='"Liberation Sans", sans-serif' font-weight="bold" font-size="43.6" fill="#000">JJB111</text>
<text x="413.0" y="2016.7" text-anchor="middle" font-family='"Liberation Sans", sans-serif' font-size="36" fill="#000">No. of proteins</text>
<text transform="translate(102.4 1674.0) rotate(-90)" text-anchor="middle" font-family='"Liberation Sans", sans-serif' font-size="36" fill="#000">Log<tspan font-size="22" dy="12">2</tspan><tspan dy="-12">-fold enrichment</tspan></text>
</g>
<g id="chart-c2">
<defs><clipPath id="cc2"><rect x="856.40" y="1418.20" width="530.80" height="530.50"/></clipPath></defs>
<g clip-path="url(#cc2)"><path d="M856.40,1743.06 H1354.42" stroke="#696969" stroke-width="5.8" stroke-linecap="round" stroke-dasharray="0 15.56" fill="none"/><path d="M856.40,1808.04 H1354.42" stroke="#000" stroke-width="5.8" stroke-linecap="round" stroke-dasharray="0 15.56" fill="none"/><path d="M1033.22,1418.20 V1916.22" stroke="#000" stroke-width="5.8" stroke-linecap="round" stroke-dasharray="0 15.56" fill="none"/></g>
<g stroke="#000" stroke-width="3.30" fill="none">
<path d="M856.40,1415.30 V1930.35 M854.75,1928.70 H1368.85"/>
<path d="M876.05,1928.70 v15.80 M954.63,1928.70 v15.80 M1033.22,1928.70 v15.80 M1111.80,1928.70 v15.80 M1190.38,1928.70 v15.80 M1268.97,1928.70 v15.80 M1347.55,1928.70 v15.80 M915.34,1928.70 v9.20 M993.92,1928.70 v9.20 M1072.51,1928.70 v9.20 M1151.09,1928.70 v9.20 M1229.68,1928.70 v9.20 M1308.26,1928.70 v9.20" stroke-width="3.5"/>
<path d="M856.40,1928.70 h-15.70 M856.40,1835.88 h-15.70 M856.40,1743.06 h-15.70 M856.40,1650.25 h-15.70 M856.40,1557.43 h-15.70 M856.40,1464.61 h-15.70 M856.40,1910.14 h-9.20 M856.40,1891.57 h-9.20 M856.40,1873.01 h-9.20 M856.40,1854.45 h-9.20 M856.40,1817.32 h-9.20 M856.40,1798.75 h-9.20 M856.40,1780.19 h-9.20 M856.40,1761.63 h-9.20 M856.40,1724.50 h-9.20 M856.40,1705.94 h-9.20 M856.40,1687.37 h-9.20 M856.40,1668.81 h-9.20 M856.40,1631.68 h-9.20 M856.40,1613.12 h-9.20 M856.40,1594.55 h-9.20 M856.40,1575.99 h-9.20 M856.40,1538.86 h-9.20 M856.40,1520.30 h-9.20 M856.40,1501.74 h-9.20 M856.40,1483.17 h-9.20 M856.40,1446.05 h-9.20 M856.40,1427.48 h-9.20" stroke-width="3.7"/>
</g>
<g font-family='"Liberation Sans", sans-serif' font-size="29.17" fill="#000">
<text transform="translate(876.35 1978.30) scale(1 1.040)" text-anchor="middle">-6</text>
<text transform="translate(954.93 1978.30) scale(1 1.040)" text-anchor="middle">-4</text>
<text transform="translate(1033.52 1978.30) scale(1 1.040)" text-anchor="middle">-2</text>
<text transform="translate(1111.60 1978.30) scale(1 1.040)" text-anchor="middle">0</text>
<text transform="translate(1190.18 1978.30) scale(1 1.040)" text-anchor="middle">2</text>
<text transform="translate(1268.77 1978.30) scale(1 1.040)" text-anchor="middle">4</text>
<text transform="translate(1347.35 1978.30) scale(1 1.040)" text-anchor="middle">6</text>
<text transform="translate(836.00 1939.60) scale(1 1.040)" text-anchor="end">0</text>
<text transform="translate(836.00 1846.78) scale(1 1.040)" text-anchor="end">1</text>
<text transform="translate(836.00 1753.96) scale(1 1.040)" text-anchor="end">2</text>
<text transform="translate(836.00 1661.15) scale(1 1.040)" text-anchor="end">3</text>
<text transform="translate(836.00 1568.33) scale(1 1.040)" text-anchor="end">4</text>
<text transform="translate(836.00 1475.51) scale(1 1.040)" text-anchor="end">5</text>
</g>
<circle cx="1034.0" cy="1576.0" r="8.90" fill="#000"/>
<circle cx="1076.4" cy="1576.7" r="8.90" fill="#000"/>
<circle cx="1089.3" cy="1640.5" r="8.90" fill="#000"/>
<circle cx="1075.4" cy="1693.1" r="8.90" fill="#000"/>
<circle cx="1019.8" cy="1706.5" r="8.90" fill="#000"/>
<circle cx="1169.7" cy="1693.9" r="8.90" fill="#000"/>
<circle cx="1081.4" cy="1724.4" r="8.90" fill="#000"/>
<circle cx="1080.1" cy="1735.2" r="8.90" fill="#000"/>
<circle cx="1082.3" cy="1746.9" r="8.90" fill="#000"/>
<circle cx="1151.9" cy="1729.0" r="8.90" fill="#000"/>
<circle cx="1156.6" cy="1753.4" r="8.90" fill="#000"/>
<circle cx="1057.2" cy="1746.7" r="8.90" fill="#000"/>
<circle cx="1069.2" cy="1759.2" r="8.90" fill="#000"/>
<circle cx="1098.0" cy="1767.5" r="8.90" fill="#000"/>
<circle cx="1085.5" cy="1771.6" r="8.90" fill="#000"/>
<circle cx="1075.1" cy="1777.0" r="8.90" fill="#000"/>
<circle cx="1066.4" cy="1783.4" r="8.90" fill="#000"/>
<circle cx="1079.8" cy="1786.4" r="8.90" fill="#000"/>
<circle cx="1074.4" cy="1789.1" r="8.90" fill="#000"/>
<circle cx="1180.0" cy="1791.1" r="8.90" fill="#000"/>
<circle cx="975.7" cy="1791.8" r="8.90" fill="#000"/>
<circle cx="970.5" cy="1803.3" r="8.90" fill="#000"/>
<circle cx="989.7" cy="1805.0" r="8.90" fill="#000"/>
<circle cx="1013.6" cy="1805.0" r="8.90" fill="#000"/>
<circle cx="1014.8" cy="1817.7" r="8.90" fill="#000"/>
<circle cx="1008.6" cy="1845.6" r="8.90" fill="#000"/>
<circle cx="1025.8" cy="1863.1" r="8.90" fill="#000"/>
<circle cx="1079.8" cy="1801.2" r="8.90" fill="#000"/>
<circle cx="1077.1" cy="1808.6" r="8.90" fill="#000"/>
<circle cx="1083.9" cy="1805.3" r="8.90" fill="#000"/>
<circle cx="1090.6" cy="1809.3" r="8.90" fill="#000"/>
<circle cx="1167.9" cy="1815.1" r="8.90" fill="#000"/>
<circle cx="1125.6" cy="1818.9" r="8.90" fill="#000"/>
<circle cx="1062.3" cy="1821.6" r="8.90" fill="#000"/>
<circle cx="1124.7" cy="1834.6" r="8.90" fill="#000"/>
<circle cx="1102.7" cy="1836.4" r="8.90" fill="#000"/>
<circle cx="1046.2" cy="1840.4" r="8.90" fill="#000"/>
<circle cx="1050.2" cy="1844.5" r="8.90" fill="#000"/>
<circle cx="1071.8" cy="1844.6" r="8.90" fill="#000"/>
<circle cx="1062.3" cy="1860.0" r="8.90" fill="#000"/>
<circle cx="1070.4" cy="1856.8" r="8.90" fill="#000"/>
<circle cx="1063.7" cy="1873.4" r="8.90" fill="#000"/>
<circle cx="1070.4" cy="1880.3" r="8.90" fill="#000"/>
<circle cx="1125.6" cy="1858.6" r="8.90" fill="#000"/>
<circle cx="1134.9" cy="1864.0" r="8.90" fill="#000"/>
<circle cx="1182.2" cy="1857.1" r="8.90" fill="#000"/>
<circle cx="1188.2" cy="1856.8" r="8.90" fill="#000"/>
<circle cx="1208.0" cy="1866.9" r="8.90" fill="#000"/>
<circle cx="1159.3" cy="1875.4" r="8.90" fill="#000"/>
<circle cx="1076.5" cy="1898.5" r="8.90" fill="#000"/>
<circle cx="1079.6" cy="1907.9" r="8.90" fill="#000"/>
<circle cx="1150.3" cy="1910.0" r="8.90" fill="#000"/>
<circle cx="1167.4" cy="1911.3" r="8.90" fill="#000"/>
<circle cx="1133.0" cy="1899.9" r="8.90" fill="#000"/>
<circle cx="1133.7" cy="1914.7" r="8.90" fill="#000"/>
<circle cx="1097.3" cy="1921.4" r="8.90" fill="#000"/>
<circle cx="1112.2" cy="1928.1" r="8.90" fill="#000"/>
<circle cx="1121.6" cy="1924.1" r="8.90" fill="#000"/>
<circle cx="1084.0" cy="1815.0" r="8.90" fill="#000"/>
<circle cx="1088.0" cy="1822.0" r="8.90" fill="#000"/>
<circle cx="1092.0" cy="1830.0" r="8.90" fill="#000"/>
<circle cx="1085.0" cy="1832.0" r="8.90" fill="#000"/>
<circle cx="1080.0" cy="1838.0" r="8.90" fill="#000"/>
<circle cx="1090.0" cy="1840.0" r="8.90" fill="#000"/>
<circle cx="1095.0" cy="1846.0" r="8.90" fill="#000"/>
<circle cx="1086.0" cy="1850.0" r="8.90" fill="#000"/>
<circle cx="1092.0" cy="1856.0" r="8.90" fill="#000"/>
<circle cx="1096.0" cy="1862.0" r="8.90" fill="#000"/>
<circle cx="1090.0" cy="1868.0" r="8.90" fill="#000"/>
<circle cx="1094.0" cy="1874.0" r="8.90" fill="#000"/>
<circle cx="1097.0" cy="1880.0" r="8.90" fill="#000"/>
<circle cx="1095.0" cy="1888.0" r="8.90" fill="#000"/>
<circle cx="1099.0" cy="1895.0" r="8.90" fill="#000"/>
<circle cx="1101.0" cy="1902.0" r="8.90" fill="#000"/>
<circle cx="1104.0" cy="1909.0" r="8.90" fill="#000"/>
<circle cx="1107.0" cy="1915.0" r="8.90" fill="#000"/>
<circle cx="1120.0" cy="1878.0" r="8.90" fill="#000"/>
<circle cx="1119.0" cy="1886.0" r="8.90" fill="#000"/>
<circle cx="1123.0" cy="1893.0" r="8.90" fill="#000"/>
<circle cx="1127.0" cy="1898.0" r="8.90" fill="#000"/>
<circle cx="1130.0" cy="1905.0" r="8.90" fill="#000"/>
<circle cx="1118.0" cy="1910.0" r="8.90" fill="#000"/>
<circle cx="1110.0" cy="1918.0" r="8.90" fill="#000"/>
<circle cx="1105.0" cy="1922.0" r="8.90" fill="#000"/>
<circle cx="1116.0" cy="1920.0" r="8.90" fill="#000"/>
<circle cx="1083.0" cy="1826.0" r="8.90" fill="#000"/>
<circle cx="1078.0" cy="1845.0" r="8.90" fill="#000"/>
<circle cx="1100.0" cy="1850.0" r="8.90" fill="#000"/>
<circle cx="1105.0" cy="1852.0" r="8.90" fill="#000"/>
<circle cx="1112.0" cy="1870.0" r="8.90" fill="#000"/>
<circle cx="1115.0" cy="1872.0" r="8.90" fill="#000"/>
<circle cx="1091.3" cy="1898.5" r="8.90" fill="#000"/>
<circle cx="1093.3" cy="1907.9" r="8.90" fill="#000"/>
<circle cx="1089.5" cy="1892.0" r="8.90" fill="#000"/>
<circle cx="961.5" cy="1634.3" r="10.25" fill="#b9e0f2" stroke="#000" stroke-width="2.5"/>
<circle cx="940.8" cy="1655.9" r="10.25" fill="#b9e0f2" stroke="#000" stroke-width="2.5"/>
<circle cx="986.4" cy="1702.1" r="10.25" fill="#b9e0f2" stroke="#000" stroke-width="2.5"/>
<circle cx="985.9" cy="1727.5" r="10.25" fill="#b9e0f2" stroke="#000" stroke-width="2.5"/>
<circle cx="959.0" cy="1823.2" r="10.25" fill="#b9e0f2" stroke="#000" stroke-width="2.5"/>
<circle cx="1005.4" cy="1857.6" r="10.25" fill="#b9e0f2" stroke="#000" stroke-width="2.5"/>
<circle cx="1104.6" cy="1863.8" r="10.25" fill="#b9e0f2" stroke="#000" stroke-width="2.5"/>
<text transform="translate(1121.20 1394.80) scale(0.991 1)" text-anchor="middle" font-family='"Liberation Sans", sans-serif' font-weight="bold" font-size="43.6" fill="#000">JJB111/KY371</text>
<text x="1112.0" y="2016.7" text-anchor="middle" font-family='"Liberation Sans", sans-serif' font-size="36" fill="#000">Log<tspan font-size="22" dy="12">2</tspan><tspan dy="-12">-fold change</tspan></text>
<text transform="translate(802.0 1672.6) rotate(-90)" text-anchor="middle" font-family='"Liberation Sans", sans-serif' font-size="36" fill="#000">-Log<tspan font-size="22" dy="12">10</tspan><tspan dy="-12"> (<tspan font-style="italic">p</tspan>-value)</tspan></text>
</g>
</svg></body></html>
